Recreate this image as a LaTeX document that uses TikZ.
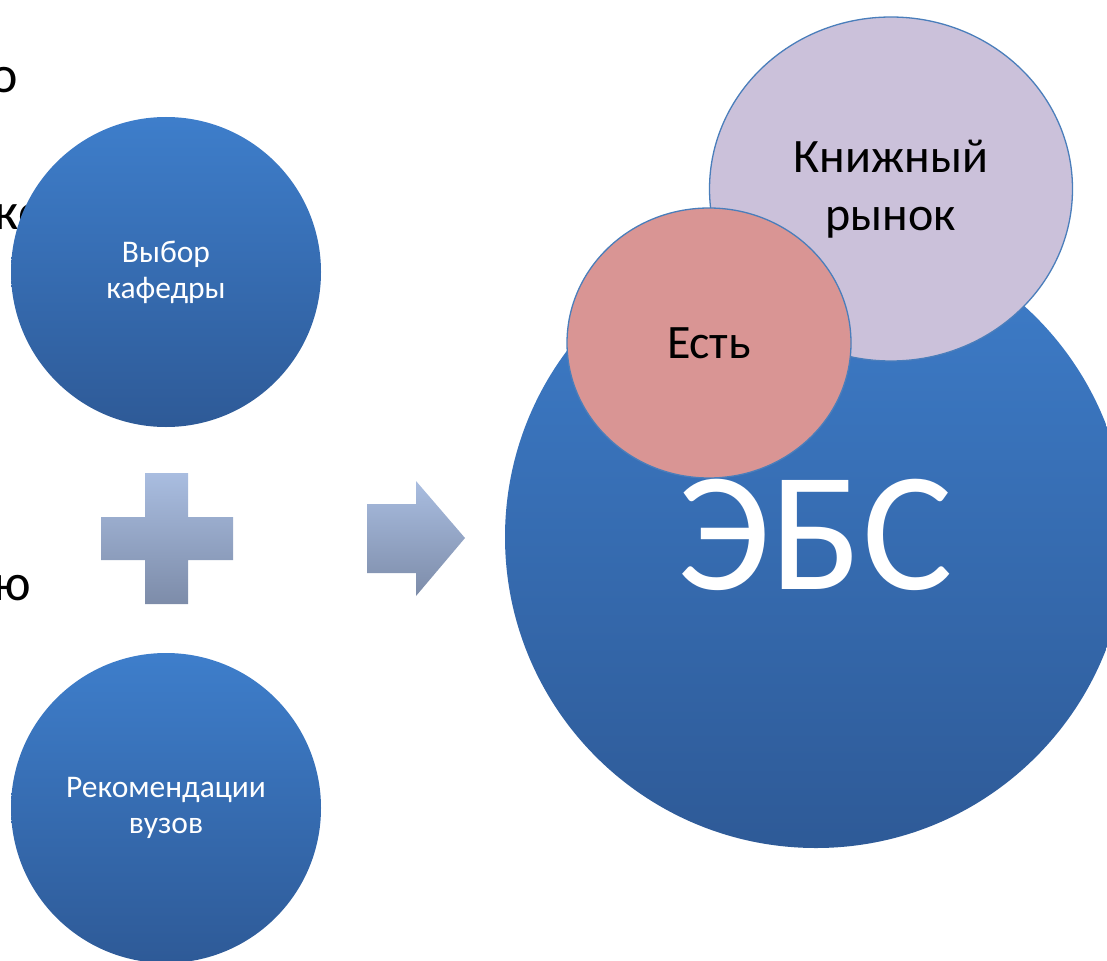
\documentclass[tikz,border=0pt]{standalone}
\usepackage{fontspec}
\setmainfont{Carlito}
\usetikzlibrary{shapes.geometric}
\definecolor{bluetop}{HTML}{3E7ECB}
\definecolor{bluebot}{HTML}{2E5A97}
\definecolor{greytop}{HTML}{A9BDE0}
\definecolor{greybot}{HTML}{7D8CA9}
\definecolor{lilac}{HTML}{CBC1DA}
\definecolor{rose}{HTML}{D99594}
\definecolor{rim}{HTML}{4A7EBB}
\tikzset{
  bluecirc/.style={circle, inner sep=0pt, minimum size=310pt, top color=bluetop, bottom color=bluebot, draw=none, text=white, align=center, font=\fontsize{31.5}{36}\selectfont},
  bigcirc/.style={circle, inner sep=0pt, minimum size=622pt, top color=bluetop, bottom color=bluebot, draw=none},
  lefttext/.style={anchor=base east, inner sep=0pt, font=\fontsize{52}{60}\selectfont},
  bubble/.style={ellipse, inner sep=0pt, draw=rim, line width=1.3pt, align=center, text=black},
  greyshade/.style={top color=greytop, bottom color=greybot, draw=none}
}
\begin{document}
\begin{tikzpicture}[x=1pt,y=-1pt]
\useasboundingbox (0,0) rectangle (1107,960);
\clip (0,0) rectangle (1107,960);
% partial side texts
\node[lefttext] (t1) at (18,93) {о};
\node[lefttext] (t2) at (46,229) {ко};
\node[lefttext] (t3) at (31,600) {ю};
% left circles
\node[bluecirc] (kaf) at (166,272) {Выбор\\кафедры};
\node[bluecirc] (rek) at (166,808) {Рекомендации\\вузов};
% plus
\shade[greyshade] (145,473) -- (188,473) -- (188,517) -- (233,517) -- (233,560) -- (188,560) -- (188,604) -- (145,604) -- (145,560) -- (101,560) -- (101,517) -- (145,517) -- cycle;
% arrow
\shade[greyshade] (367,504) -- (416,504) -- (416,481) -- (465,538) -- (416,596) -- (416,573) -- (367,573) -- cycle;
% big circle
\node[bigcirc] (ebs) at (816,537) {};
% bubbles
\node[bubble, fill=lilac, minimum width=363pt, minimum height=344pt, font=\fontsize{48}{58}\selectfont] (kniga) at (891,189) {Книжный\\рынок};
\node[bubble, fill=rose, minimum width=284pt, minimum height=270pt, font=\fontsize{48}{56}\selectfont] (est) at (709,343) {Есть};
% ЭБС text
\node[text=white, inner sep=0pt, font=\fontsize{170}{180}\selectfont] (ebst) at (815,535) {ЭБС};
\end{tikzpicture}
\end{document}
